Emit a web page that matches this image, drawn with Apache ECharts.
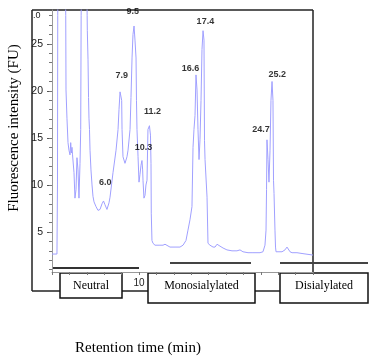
<!DOCTYPE html>
<html>
<head>
<meta charset="utf-8">
<script src="https://cdn.jsdelivr.net/npm/echarts@6/dist/echarts.min.js"></script>
<style>
  html, body { margin: 0; padding: 0; background: #fff; }
  #chart { width: 374px; height: 357px; }
</style>
</head>
<body>
<div id="chart"></div>
<script>
// retention time (min) and fluorescence (FU)
var retentionTime = [
  0, 0.57, 0.63, 0.66, 1.1, 1.58, 1.61, 1.72, 1.84, 1.95,
  2.07, 2.15, 2.22, 2.3, 2.36, 2.53, 2.64, 2.76, 2.87, 2.99,
  3.1, 3.22, 3.3, 3.35, 3.7, 4.04, 4.06, 4.14, 4.2, 4.25,
  4.31, 4.37, 4.48, 4.6, 4.71, 4.83, 5.06, 5.29, 5.52, 5.75,
  5.92, 6.09, 6.32, 6.55, 6.67, 7.01, 7.36, 7.59, 7.7, 7.82,
  7.93, 8.01, 8.05, 8.16, 8.39, 8.62, 8.74, 8.97, 9.08, 9.2,
  9.31, 9.43, 9.54, 9.66, 9.71, 9.77, 9.89, 10.0, 10.11, 10.23,
  10.34, 10.42, 10.46, 10.57, 10.69, 10.8, 10.92, 11.03, 11.2, 11.32,
  11.38, 11.41, 11.49, 11.61, 11.84, 12.07, 12.41, 12.76, 12.99, 13.2,
  13.56, 14.14, 14.71, 15.06, 15.4, 15.63, 15.86, 16.09, 16.21, 16.32,
  16.44, 16.55, 16.67, 16.78, 16.9, 17.01, 17.13, 17.24, 17.36, 17.47,
  17.53, 17.59, 17.82, 17.93, 18.16, 18.51, 18.74, 18.97, 19.31, 19.66,
  20.11, 20.69, 21.26, 21.38, 21.61, 21.95, 22.53, 23.1, 23.91, 24.25,
  24.48, 24.6, 24.66, 24.71, 24.83, 24.94, 25.06, 25.17, 25.29, 25.4,
  25.46, 25.52, 25.63, 25.69, 25.75, 26.09, 26.44, 26.78, 27.01, 27.13,
  27.36, 27.59, 28.16, 28.85, 30.0
]
var fluorescence = [
  2.66, 2.66, 10, 28, 80, 28, 20.1, 17.1, 14.5, 13.7,
  13.2, 14.5, 13.4, 14.0, 13.2, 11.3, 8.6, 9.5, 12.9, 11.6,
  8.6, 12.3, 15.9, 28, 60, 28, 26.4, 23.3, 19.3, 17.1,
  15.9, 13.7, 11.6, 10.0, 8.8, 8.2, 7.7, 7.3, 7.4, 8.0,
  8.3, 7.9, 7.4, 8.1, 8.7, 11.3, 13.7, 15.9, 18.0, 19.9,
  20.1, 19.0, 15.9, 13.0, 12.3, 13.0, 13.7, 15.9, 19.3, 23.5,
  26.0, 26.9, 25.4, 23.5, 19.0, 15.9, 13.0, 10.3, 11.1, 12.1,
  12.6, 11.6, 10.5, 8.6, 8.9, 10.0, 10.5, 15.9, 16.3, 15.3,
  12.3, 7.0, 4.1, 3.8, 3.6, 3.6, 3.6, 3.6, 3.7, 3.5,
  3.4, 3.4, 3.4, 3.6, 4.1, 5.2, 6.3, 7.7, 14.0, 15.9,
  17.4, 21.7, 20.1, 15.9, 12.7, 14.8, 19.0, 24.4, 26.4, 25.4,
  14.7, 12.7, 8.7, 3.8, 3.6, 3.4, 3.4, 3.7, 3.5, 3.3,
  3.1, 3.0, 3.0, 3.2, 3.1, 2.9, 2.8, 2.8, 2.8, 2.9,
  3.6, 5.2, 9.5, 14.8, 12.7, 10.3, 13.7, 19.0, 21.0, 19.0,
  10.5, 9.1, 5.2, 3.4, 2.9, 2.9, 2.9, 3.1, 3.4, 3.3,
  2.9, 2.8, 2.8, 2.7, 2.55
]

// labelled peaks: retention time and apex height
var peakTimes = [6.0, 7.9, 9.5, 10.3, 11.2, 16.6, 17.4, 24.7, 25.2]
var peakHeights = [8.3, 20.1, 26.9, 12.6, 16.3, 21.7, 26.4, 14.8, 21.0]

var yTicks = [5, 10, 15, 20, 25]
var xLabels = [10]
var groups = ['Neutral', 'Monosialylated', 'Disialylated']

var minorTicks = []
for (var i = 1; i <= 28; i++) minorTicks.push(i)

// label offsets (px) from each apex
var peakOffsets = [[1, -18], [1, -14], [-2, -14], [2, -13], [3, -14], [-6, -6], [2, -9], [-6, -10], [6, -7]]

var chart = echarts.init(document.getElementById('chart'))
var serif = '"Liberation Serif", "Times New Roman", serif'
var narrow = '"Liberation Sans Narrow", "Arial Narrow", sans-serif'
var frameColor = '#222'

function box(x, y, w, h, text) {
  return {
    type: 'group',
    children: [
      { type: 'rect', shape: { x: x, y: y, width: w, height: h }, style: { fill: '#fff', stroke: '#111', lineWidth: 1.5 } },
      {
        type: 'text',
        x: x + w / 2,
        y: y + 13,
        style: { text: text, fill: '#000', font: '12px ' + serif, align: 'center', verticalAlign: 'middle' }
      }
    ]
  }
}

function line(x1, y1, x2, y2, color, width) {
  return { type: 'line', shape: { x1: x1, y1: y1, x2: x2, y2: y2 }, style: { stroke: color, lineWidth: width } }
}

chart.setOption({
  animation: false,
  grid: { left: 52, top: 10, right: 61, bottom: 85 },
  xAxis: {
    type: 'value',
    min: 0,
    max: 30,
    interval: 2,
    axisLine: { lineStyle: { color: '#999', width: 1 } },
    axisTick: { length: 3, lineStyle: { color: '#777' } },
    axisLabel: {
      margin: 6,
      color: '#222',
      fontFamily: narrow,
      fontSize: 10,
      formatter: function (v) { return xLabels.indexOf(v) >= 0 ? String(v) : '' }
    },
    splitLine: { show: false }
  },
  yAxis: [
    {
      type: 'value',
      min: 0.75,
      max: 28.6,
      axisLine: { show: true, lineStyle: { color: '#999', width: 1 } },
      axisTick: { show: true, length: 5, customValues: yTicks, lineStyle: { color: '#555' } },
      axisLabel: { customValues: yTicks, margin: 9, color: '#222', fontFamily: narrow, fontSize: 10.5 },
      splitLine: { show: false }
    },
    {
      type: 'value',
      min: 0.75,
      max: 28.6,
      position: 'left',
      axisLine: { show: false },
      axisTick: { show: true, length: 3, customValues: minorTicks, lineStyle: { color: '#777' } },
      axisLabel: { show: false },
      splitLine: { show: false }
    }
  ],
  series: [
    {
      type: 'line',
      data: retentionTime.map(function (t, i) { return [t, fluorescence[i]] }),
      showSymbol: false,
      clip: true,
      lineStyle: { color: '#a0a0ff', width: 1 },
      z: 2
    },
    {
      type: 'scatter',
      symbolSize: 0,
      data: peakTimes.map(function (t, i) {
        return {
          value: [t, peakHeights[i]],
          label: { offset: peakOffsets[i] }
        }
      }),
      label: {
        show: true,
        position: 'inside',
        formatter: function (p) { return p.value[0].toFixed(1) },
        color: '#000',
        fontWeight: 'bold',
        fontSize: 9,
        fontFamily: '"Liberation Sans", Arial, sans-serif'
      },
      clip: false,
      z: 5
    }
  ],
  graphic: [
    // outer frame
    line(32, 10, 313, 10, frameColor, 1.5),
    line(32, 10, 32, 291, frameColor, 1.5),
    line(313, 10, 313, 273, frameColor, 1.5),
    line(32, 291, 60, 291, frameColor, 1.5),
    line(122, 291, 148, 291, frameColor, 1.5),
    line(255, 291, 280, 291, frameColor, 1.5),
    // group brackets
    line(52, 268, 139, 268, '#333', 2),
    line(170, 263, 251, 263, '#444', 2),
    line(280, 263, 368, 263, '#444', 2),
    box(60, 273, 62, 25, groups[0]),
    box(148, 273, 107, 30, groups[1]),
    box(280, 273, 88, 30, groups[2]),
    // clipped top label
    { type: 'text', x: 33, y: 11, style: { text: '.0', fill: '#222', font: '9px ' + narrow } },
    {
      type: 'text',
      x: 138,
      y: 348,
      style: { text: 'Retention time (min)', fill: '#000', font: '15px ' + serif, align: 'center', verticalAlign: 'middle' }
    },
    {
      type: 'text',
      x: 14,
      y: 128,
      rotation: Math.PI / 2,
      style: { text: 'Fluorescence intensity (FU)', fill: '#000', font: '15px ' + serif, align: 'center', verticalAlign: 'middle' }
    }
  ]
})
</script>
</body>
</html>
